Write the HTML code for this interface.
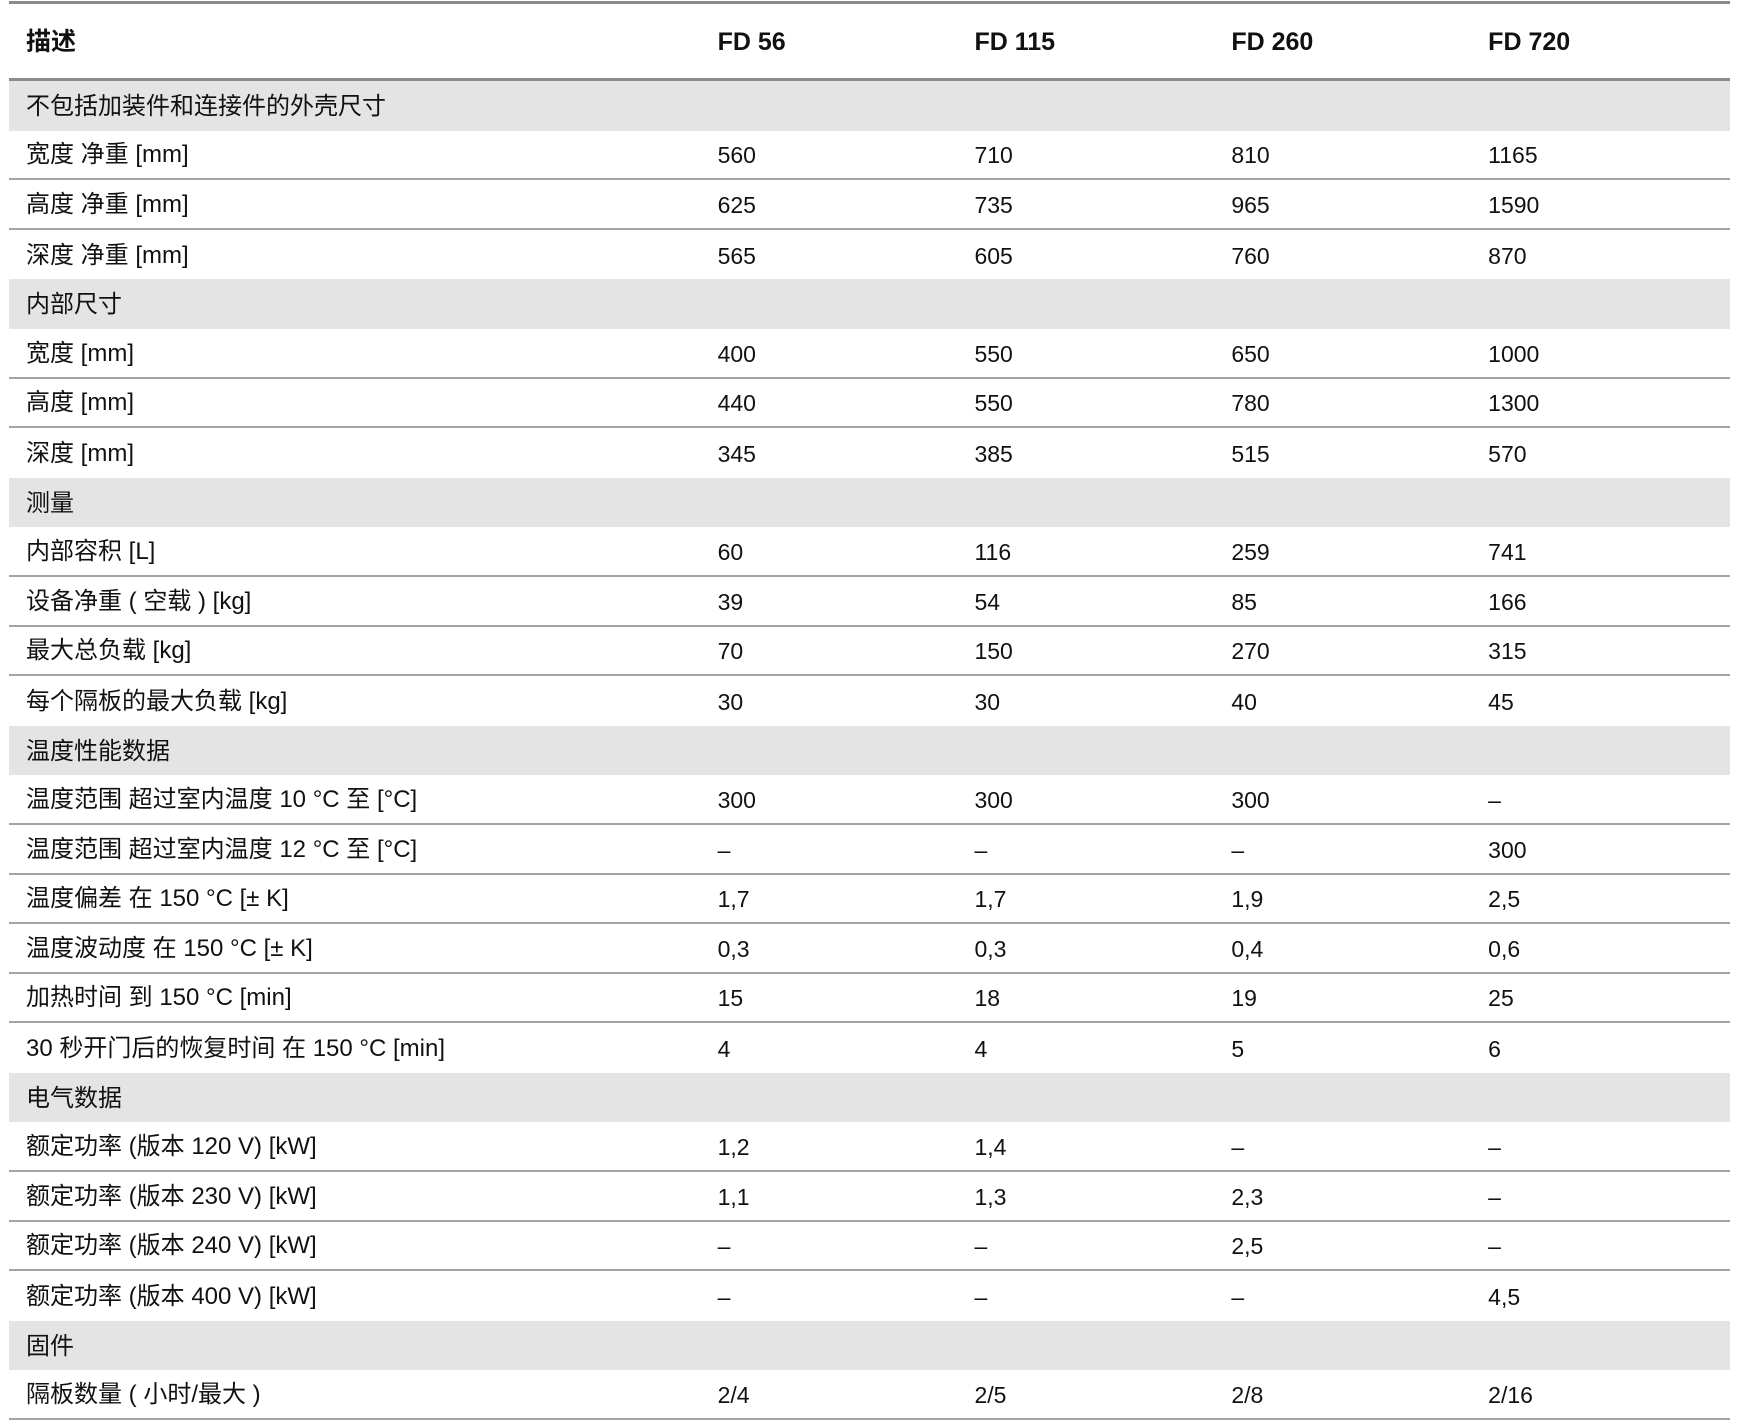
<!DOCTYPE html>
<html><head><meta charset="utf-8"><style>
body{margin:0;background:#fff;width:1743px;height:1421px;overflow:hidden;font-family:"Liberation Sans","Noto Sans CJK SC",sans-serif;color:#111}
.t{position:absolute;left:9px;width:1721px;top:0}
.top{height:3px;background:#8a8a8a;margin-top:1px}
.r{display:flex;align-items:center;height:49.6px;box-sizing:border-box;font-size:23px;line-height:26px}
.r div{padding-top:2px}
.h{font-weight:bold;font-size:25px;border-bottom:3px solid #8c8c8c;height:77px}
.s{background:#e3e4e3}
.b{border-bottom:2px solid #a3a3a3}
.c0{width:694px;padding-left:17px;box-sizing:border-box;font-size:24px}
.c{width:257px;padding-left:15px;box-sizing:border-box}
</style></head><body><div class="t">
<div class="top"></div>
<div class="r h"><div class="c0" style="font-size:25px">描述</div><div class="c">FD 56</div><div class="c">FD 115</div><div class="c">FD 260</div><div class="c">FD 720</div></div>
<div class="r s"><div class="c0">不包括加装件和连接件的外壳尺寸</div></div>
<div class="r b"><div class="c0">宽度 净重 [mm]</div><div class="c">560</div><div class="c">710</div><div class="c">810</div><div class="c">1165</div></div>
<div class="r b"><div class="c0">高度 净重 [mm]</div><div class="c">625</div><div class="c">735</div><div class="c">965</div><div class="c">1590</div></div>
<div class="r"><div class="c0">深度 净重 [mm]</div><div class="c">565</div><div class="c">605</div><div class="c">760</div><div class="c">870</div></div>
<div class="r s"><div class="c0">内部尺寸</div></div>
<div class="r b"><div class="c0">宽度 [mm]</div><div class="c">400</div><div class="c">550</div><div class="c">650</div><div class="c">1000</div></div>
<div class="r b"><div class="c0">高度 [mm]</div><div class="c">440</div><div class="c">550</div><div class="c">780</div><div class="c">1300</div></div>
<div class="r"><div class="c0">深度 [mm]</div><div class="c">345</div><div class="c">385</div><div class="c">515</div><div class="c">570</div></div>
<div class="r s"><div class="c0">测量</div></div>
<div class="r b"><div class="c0">内部容积 [L]</div><div class="c">60</div><div class="c">116</div><div class="c">259</div><div class="c">741</div></div>
<div class="r b"><div class="c0">设备净重 ( 空载 ) [kg]</div><div class="c">39</div><div class="c">54</div><div class="c">85</div><div class="c">166</div></div>
<div class="r b"><div class="c0">最大总负载 [kg]</div><div class="c">70</div><div class="c">150</div><div class="c">270</div><div class="c">315</div></div>
<div class="r"><div class="c0">每个隔板的最大负载 [kg]</div><div class="c">30</div><div class="c">30</div><div class="c">40</div><div class="c">45</div></div>
<div class="r s"><div class="c0">温度性能数据</div></div>
<div class="r b"><div class="c0">温度范围 超过室内温度 10 °C 至 [°C]</div><div class="c">300</div><div class="c">300</div><div class="c">300</div><div class="c">–</div></div>
<div class="r b"><div class="c0">温度范围 超过室内温度 12 °C 至 [°C]</div><div class="c">–</div><div class="c">–</div><div class="c">–</div><div class="c">300</div></div>
<div class="r b"><div class="c0">温度偏差 在 150 °C [± K]</div><div class="c">1,7</div><div class="c">1,7</div><div class="c">1,9</div><div class="c">2,5</div></div>
<div class="r b"><div class="c0">温度波动度 在 150 °C [± K]</div><div class="c">0,3</div><div class="c">0,3</div><div class="c">0,4</div><div class="c">0,6</div></div>
<div class="r b"><div class="c0">加热时间 到 150 °C [min]</div><div class="c">15</div><div class="c">18</div><div class="c">19</div><div class="c">25</div></div>
<div class="r"><div class="c0">30 秒开门后的恢复时间 在 150 °C [min]</div><div class="c">4</div><div class="c">4</div><div class="c">5</div><div class="c">6</div></div>
<div class="r s"><div class="c0">电气数据</div></div>
<div class="r b"><div class="c0">额定功率 (版本 120 V) [kW]</div><div class="c">1,2</div><div class="c">1,4</div><div class="c">–</div><div class="c">–</div></div>
<div class="r b"><div class="c0">额定功率 (版本 230 V) [kW]</div><div class="c">1,1</div><div class="c">1,3</div><div class="c">2,3</div><div class="c">–</div></div>
<div class="r b"><div class="c0">额定功率 (版本 240 V) [kW]</div><div class="c">–</div><div class="c">–</div><div class="c">2,5</div><div class="c">–</div></div>
<div class="r"><div class="c0">额定功率 (版本 400 V) [kW]</div><div class="c">–</div><div class="c">–</div><div class="c">–</div><div class="c">4,5</div></div>
<div class="r s"><div class="c0">固件</div></div>
<div class="r b"><div class="c0">隔板数量 ( 小时/最大 )</div><div class="c">2/4</div><div class="c">2/5</div><div class="c">2/8</div><div class="c">2/16</div></div>
</div></body></html>
